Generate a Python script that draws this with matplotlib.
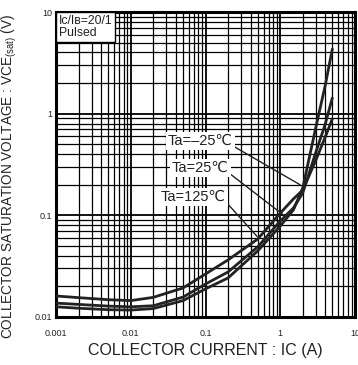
import matplotlib
matplotlib.use("Agg")
import matplotlib.pyplot as plt
from matplotlib.ticker import LogLocator, FixedLocator, NullFormatter

plt.rcParams['font.family'] = ['Liberation Sans', 'DejaVu Sans']

# Data
ic = [0.001, 0.002, 0.005, 0.01, 0.02, 0.05, 0.1, 0.2, 0.5, 1, 1.5, 2, 3, 4, 5]
v_125 = [0.0161, 0.0155, 0.0148, 0.0145, 0.0156, 0.0193, 0.0265, 0.0364, 0.0585, 0.105, 0.145, 0.177, 0.35, 0.59, 0.9]
v_25 = [0.0137, 0.0133, 0.0128, 0.0126, 0.0129, 0.0157, 0.0211, 0.0277, 0.049, 0.088, 0.118, 0.166, 0.42, 0.79, 1.45]
v_m25 = [0.0126, 0.0122, 0.0118, 0.0117, 0.0121, 0.0145, 0.0189, 0.0242, 0.0447, 0.0785, 0.113, 0.186, 0.74, 1.9, 4.4]

x_ticks = [0.001, 0.01, 0.1, 1, 10]
x_ticklabels = ["0.001", "0.01", "0.1", "1", "10"]
y_ticks = [0.01, 0.1, 1, 10]
y_ticklabels = ["0.01", "0.1", "1", "10"]

labels = ["Ta=\u201325\u2103", "Ta=25\u2103", "Ta=125\u2103"]
label_targets = [(1.84, 0.20), (1.12, 0.100), (0.49, 0.062)]

W, H = 358, 365
fig = plt.figure(figsize=(W / 100, H / 100), dpi=100)
L, R, T, B = 56, 355, 12, 317
ax = fig.add_axes([L / W, (H - B) / H, (R - L) / W, (B - T) / H])
ax.set_xscale('log')
ax.set_yscale('log')
ax.set_xlim(0.001, 10)
ax.set_ylim(0.01, 10)

ax.xaxis.set_major_locator(FixedLocator(x_ticks))
ax.yaxis.set_major_locator(FixedLocator(y_ticks))
ax.xaxis.set_minor_locator(LogLocator(base=10, subs=range(2, 10)))
ax.yaxis.set_minor_locator(LogLocator(base=10, subs=range(2, 10)))
ax.xaxis.set_minor_formatter(NullFormatter())
ax.yaxis.set_minor_formatter(NullFormatter())
ax.set_xticklabels(x_ticklabels)
ax.set_yticklabels(y_ticklabels)
ax.tick_params(which='both', length=0, labelsize=6.5, colors='#222222')
ax.tick_params(axis='x', pad=9)
ax.tick_params(axis='y', pad=3)

ax.grid(which='major', color='black', lw=1.3)
ax.grid(which='minor', color='black', lw=0.9)
ax.set_axisbelow(True)
for s in ax.spines.values():
    s.set_linewidth(2.2)
    s.set_color('black')

for v in (v_125, v_25, v_m25):
    ax.plot(ic, v, color='#222222', lw=2.0, solid_capstyle='butt', zorder=3)

fx = lambda x: (x - L) / (R - L)
fy = lambda y: (B - y) / (B - T)
label_pos = [(fx(168), fy(141)), (fx(172), fy(168)), (fx(161), fy(197))]
for lab, tgt, pos in zip(labels, label_targets, label_pos):
    ax.annotate(lab, xy=tgt, xycoords='data', xytext=pos, textcoords='axes fraction',
                fontsize=10.5, va='center', ha='left', color='#222222', zorder=5,
                bbox=dict(boxstyle='square,pad=0.12', fc='white', ec='none'),
                arrowprops=dict(arrowstyle='-', lw=1.0, color='#222222', shrinkA=0, shrinkB=0,
                                relpos=(1.0, 0.15)))

ax.text(fx(58.5), fy(14.5), "I\u1d04/I\u0299=20/1\nPulsed", transform=ax.transAxes,
        fontsize=8.8, va='top', ha='left', color='#222222', linespacing=1.1, zorder=6,
        bbox=dict(boxstyle='square,pad=0.2', fc='white', ec='black', lw=1.0))

ax.set_xlabel("COLLECTOR CURRENT : IC (A)", fontsize=11.5, color='#222222', labelpad=3)
ax.set_ylabel(r"COLLECTOR SATURATION VOLTAGE : VCE$_{\mathregular{(sat)}}$ (V)",
              fontsize=9.8, color='#222222')
ax.yaxis.set_label_coords((19 - L) / (R - L), fy(176))

fig.savefig("out.png", dpi=100)
